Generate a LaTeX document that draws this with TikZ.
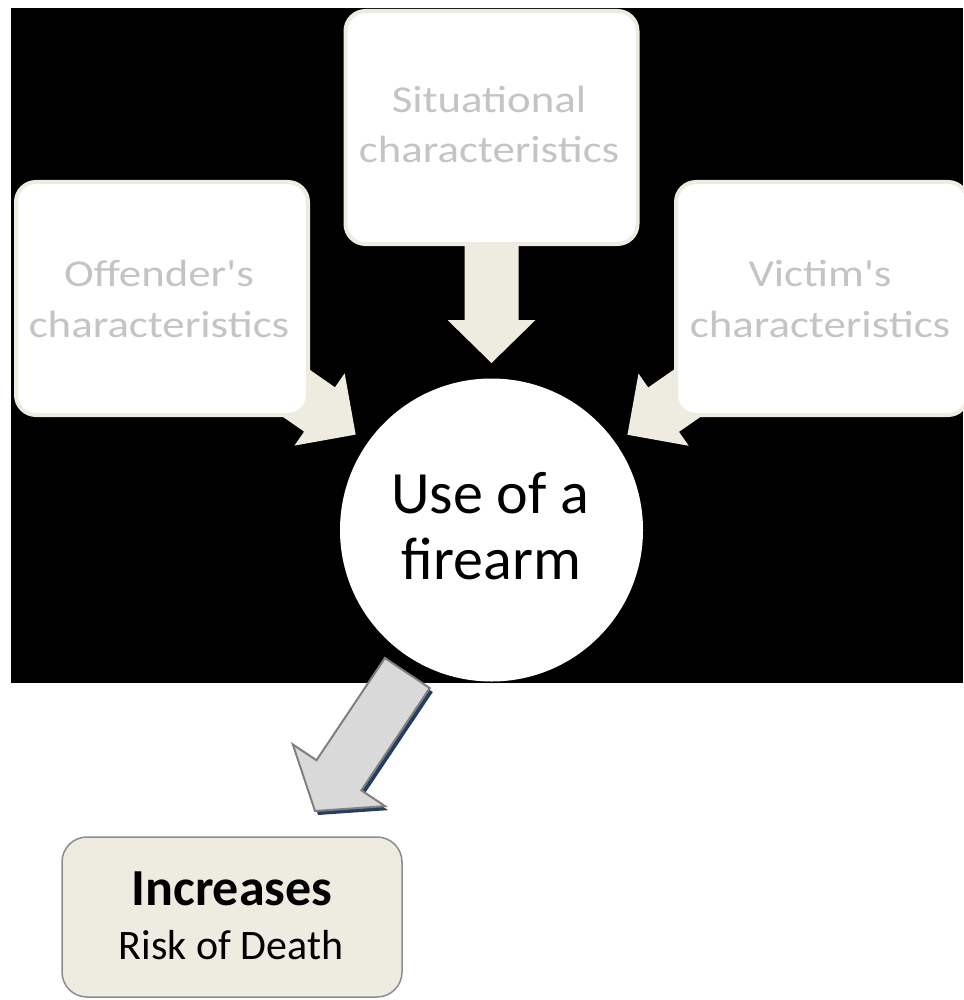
\documentclass[tikz,border=0pt]{standalone}
\usepackage{fontspec}
\setmainfont{Carlito}
\newfontfamily\boxfont[FakeStretch=1.18]{Carlito}
\usetikzlibrary{calc}
\definecolor{cream}{RGB}{238,236,225}
\definecolor{boxtext}{RGB}{196,196,196}
\definecolor{arrowgray}{RGB}{217,217,217}
\definecolor{edgegray}{RGB}{128,128,128}
\definecolor{shadownavy}{RGB}{36,62,98}
\definecolor{resultfill}{RGB}{238,236,225}
\definecolor{resultedge}{RGB}{140,140,140}
\tikzset{
  pics/blockarrow/.style args={#1/#2/#3/#4}{code={
    \path[pic actions] (0,0) -- (-#4,#3) -- (-#4,#2) -- (-#1,#2) -- (-#1,-#2) -- (-#4,-#2) -- (-#4,-#3) -- cycle;}},
  factorbox/.style={draw=cream, line width=4pt, fill=white, rounded corners=20pt, minimum width=292pt, minimum height=233pt, inner sep=0pt},
  factortext/.style={anchor=base, text=boxtext, font=\boxfont\fontsize{38}{46}\selectfont, inner sep=0pt},
  hub/.style={circle, fill=white, minimum size=303pt, inner sep=0pt},
  hubtext/.style={anchor=base, font=\fontsize{60}{72}\selectfont, inner sep=0pt},
  resultbox/.style={draw=resultedge, line width=1.5pt, fill=resultfill, rounded corners=25pt, minimum width=340pt, minimum height=160pt, inner sep=0pt},
  creamarrow/.style={fill=cream},
  grayarrow/.style={fill=arrowgray, draw=edgegray, line width=2pt, line join=miter},
  arrowshadow/.style={fill=shadownavy},
}
\begin{document}
\begin{tikzpicture}[x=1pt,y=-1pt]
\useasboundingbox (0,0) rectangle (963,1000);
\fill[white] (0,0) rectangle (963,1000);
\fill[black] (11,8) rectangle (963,683);
% centres
\coordinate (offc) at (162,298.5);
\coordinate (sitc) at (491.5,127.5);
\coordinate (vicc) at (822,298.5);
\coordinate (usec) at (491.5,530);
% arrow tips
\coordinate (tipoff) at ($(usec)!166pt!(offc)$);
\coordinate (tipsit) at ($(usec)!167pt!(sitc)$);
\coordinate (tipvic) at ($(usec)!166pt!(vicc)$);
\coordinate (graytip) at (315,811);
% cream arrows (behind boxes)
\pic[creamarrow, rotate=-34.8] at (tipoff) {blockarrow=150/27/44/44};
\pic[creamarrow, rotate=-90] at (tipsit) {blockarrow=170/27/44/43};
\pic[creamarrow, rotate=-145.2] at (tipvic) {blockarrow=150/27/44/44};
% boxes
\node[factorbox] (offender) at (offc) {};
\node[factorbox] (situational) at (sitc) {};
\node[factorbox] (victim) at (vicc) {};
\node[factortext] (off1) at (159,286) {Offender's};
\node[factortext] (off2) at (159,337) {characteristics};
\node[factortext] (sit1) at (489,113) {Situational};
\node[factortext] (sit2) at (489,163) {characteristics};
\node[factortext] (vic1) at (820,286) {Victim's};
\node[factortext] (vic2) at (820,337) {characteristics};
% hub
\node[hub] (use) at (usec) {};
\node[hubtext] (use1) at (490,513) {Use of a};
\node[hubtext] (use2) at (491.5,579) {firearm};
% gray arrow
\pic[arrowshadow, rotate=-123.8] at ($(graytip)+(3,4)$) {blockarrow=166/27/55.5/43};
\pic[grayarrow, rotate=-123.8] at (graytip) {blockarrow=166/27/55.5/43};
% result
\node[resultbox] (result) at (232,917) {};
\node[anchor=base, inner sep=0pt, font=\bfseries\fontsize{52}{60}\selectfont] (inc) at (232,905) {Increases};
\node[anchor=base, inner sep=0pt, font=\fontsize{42}{50}\selectfont] (risk) at (231,959) {Risk of Death};
\end{tikzpicture}
\end{document}
